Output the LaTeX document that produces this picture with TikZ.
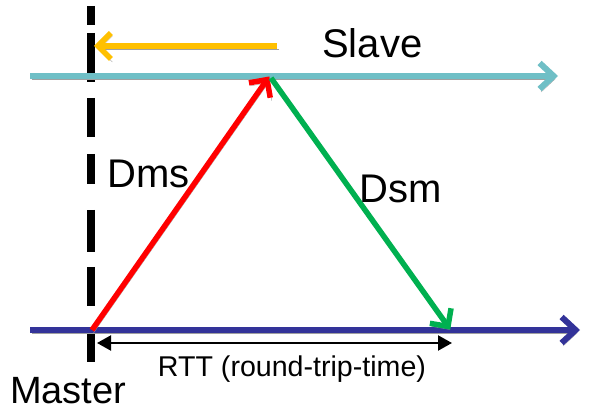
\documentclass[tikz,border=0pt]{standalone}
\usepackage{fontspec}
\setmainfont{Liberation Sans}
\usetikzlibrary{arrows.meta}
\definecolor{slavec}{HTML}{6FBFC6}
\definecolor{masterc}{HTML}{333399}
\definecolor{yel}{HTML}{FFC000}
\definecolor{redc}{HTML}{FF0000}
\definecolor{grn}{HTML}{00B050}
\definecolor{shad}{HTML}{A0A0A0}
\begin{document}
\begin{tikzpicture}[x=1pt,y=-1pt,
  shadowed/.style={preaction={draw=shad, transform canvas={shift={(1.5pt,-3pt)}}}},
  timeline/.style={line width=6pt, -{Straight Barb[length=14pt,width=26pt,line width=6pt]}},
  msg/.style={line width=5.5pt, -{Straight Barb[length=13pt,width=26pt,line width=5.5pt]}},
  lbl/.style={inner sep=0pt, anchor=base west, font=\fontsize{40}{40}\selectfont},
]
\useasboundingbox (0,0) rectangle (590,414);
% coordinates
\coordinate (sL) at (30,76);
\coordinate (sR) at (562,76);
\coordinate (mL) at (30,330);
\coordinate (mR) at (584,330);
\coordinate (m0) at (92,330);
\coordinate (s1) at (271,74);
\coordinate (s1b) at (271,78);
\coordinate (m1) at (452,332);
\coordinate (yA) at (277,46);
\coordinate (yB) at (90,46);
\coordinate (dT) at (91,6);
\coordinate (dB) at (91,362);
\coordinate (rL) at (97,343);
\coordinate (rR) at (452,343);
% dashed vertical
\draw[line width=7.5pt, dash pattern=on 19pt off 8pt on 49pt off 16pt on 39pt off 17pt on 30pt off 26pt on 42pt off 15pt on 39pt off 27pt on 29pt off 10pt] (dT) -- (dB);
% slave timeline
\draw[timeline, draw=slavec, shadowed, shorten >=4pt] (sL) -- (sR);
% yellow arrow
\draw[msg, draw=yel, shadowed, shorten >=4pt] (yA) -- (yB);
% master timeline
\draw[timeline, draw=masterc, shadowed, shorten >=4pt] (mL) -- (mR);
% red and green messages
\draw[msg, draw=redc, shadowed, shorten >=3pt] (m0) -- (s1);
\draw[msg, draw=grn, shadowed, shorten >=3pt] (s1b) -- (m1);
% RTT
\draw[line width=2.2pt, {Triangle[length=14pt,width=15pt]}-{Triangle[length=14pt,width=15pt]}] (rL) -- (rR);
% labels
\node[lbl] (slave) at (322,58) {Slave};
\node[lbl] (dms) at (107,188) {Dms};
\node[lbl] (dsm) at (359,203) {Dsm};
\node[lbl, font=\fontsize{38}{38}\selectfont] (master) at (10,404) {Master};
\node[inner sep=0pt, anchor=base, font=\fontsize{28.6}{28.6}\selectfont] (rtt) at (292,377) {RTT (round-trip-time)};
\end{tikzpicture}
\end{document}
